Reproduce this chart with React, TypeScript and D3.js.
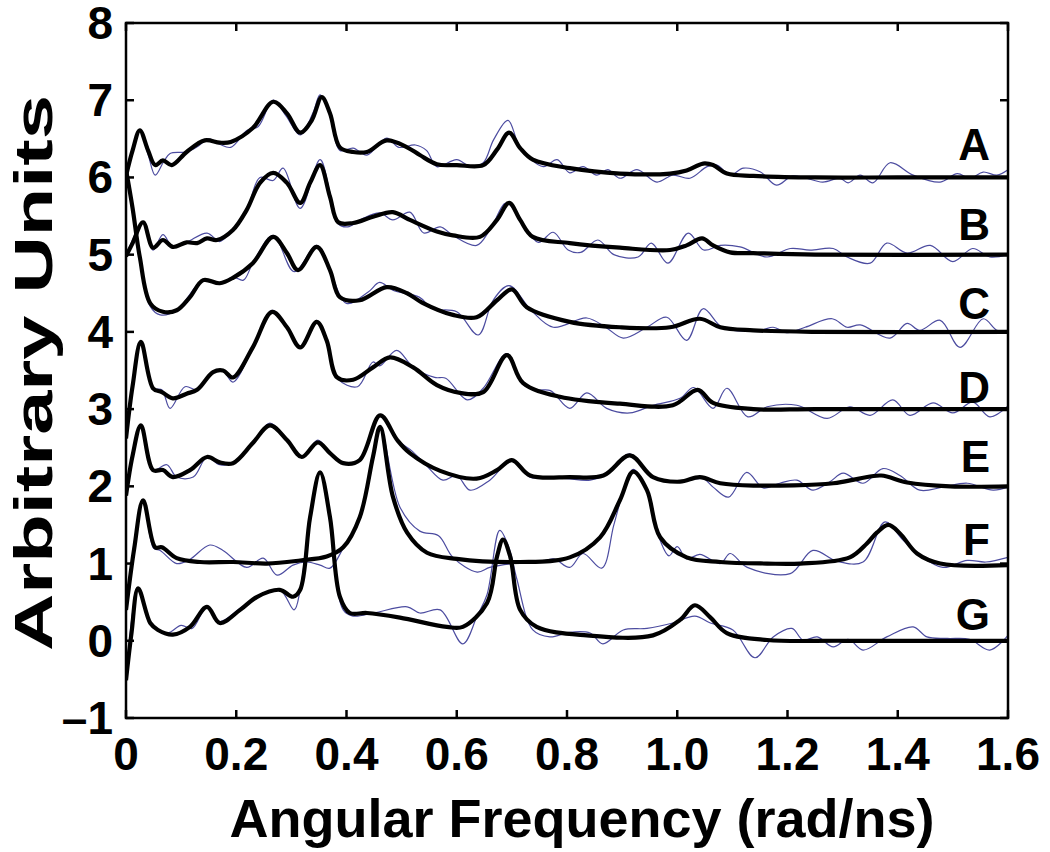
import React from "react";
import * as d3 from "d3";

const W = 1050;
const H = 852;
const margin = { top: 23, right: 42, bottom: 134, left: 126 };
const innerW = W - margin.left - margin.right;
const innerH = H - margin.top - margin.bottom;

type Pt = [number, number];

const aBlack: Pt[] = [[0,6.02],[0.012,6.35],[0.025,6.61],[0.04,6.35],[0.053,6.16],[0.067,6.22],[0.083,6.16],[0.11,6.33],[0.143,6.48],[0.17,6.45],[0.19,6.46],[0.23,6.64],[0.267,6.98],[0.292,6.83],[0.316,6.58],[0.337,6.74],[0.355,7.04],[0.37,6.83],[0.388,6.39],[0.412,6.33],[0.437,6.33],[0.473,6.48],[0.51,6.39],[0.533,6.29],[0.564,6.17],[0.6,6.16],[0.648,6.16],[0.673,6.36],[0.695,6.58],[0.715,6.38],[0.738,6.23],[0.805,6.12],[0.896,6.05],[0.987,6.05],[1.017,6.09],[1.047,6.18],[1.065,6.16],[1.09,6.05],[1.138,6.02],[1.25,6.0],[1.4,6.0],[1.6,6.0]];
const aBlue: Pt[] = [[0,6.02],[0.025,6.6],[0.04,6.3],[0.053,6.03],[0.068,6.2],[0.08,6.31],[0.11,6.33],[0.13,6.4],[0.15,6.5],[0.17,6.43],[0.19,6.39],[0.22,6.61],[0.24,6.66],[0.267,7.0],[0.29,6.8],[0.316,6.55],[0.34,6.85],[0.352,7.07],[0.37,6.8],[0.388,6.35],[0.412,6.38],[0.437,6.29],[0.473,6.51],[0.495,6.39],[0.525,6.42],[0.545,6.35],[0.564,6.14],[0.6,6.23],[0.625,6.14],[0.648,6.19],[0.667,6.49],[0.693,6.74],[0.715,6.39],[0.757,6.14],[0.782,6.23],[0.805,6.06],[0.829,6.14],[0.854,6.03],[0.874,6.1],[0.896,5.99],[0.927,6.1],[0.963,5.94],[0.992,6.03],[1.023,5.99],[1.054,6.14],[1.072,6.16],[1.096,6.03],[1.12,6.12],[1.151,6.07],[1.18,5.9],[1.21,6.02],[1.264,5.94],[1.295,5.99],[1.31,5.93],[1.332,6.03],[1.355,5.93],[1.386,6.19],[1.428,6.03],[1.477,5.94],[1.508,6.05],[1.531,5.99],[1.555,6.07],[1.58,6.03],[1.6,6.1]];

const bBlack: Pt[] = [[0,4.98],[0.012,5.15],[0.031,5.42],[0.049,5.09],[0.067,5.19],[0.085,5.1],[0.11,5.16],[0.129,5.15],[0.147,5.21],[0.165,5.19],[0.194,5.32],[0.219,5.58],[0.243,5.93],[0.267,6.06],[0.292,5.93],[0.316,5.67],[0.334,5.93],[0.352,6.16],[0.37,5.75],[0.385,5.42],[0.412,5.41],[0.448,5.49],[0.484,5.55],[0.515,5.45],[0.564,5.3],[0.593,5.25],[0.642,5.23],[0.673,5.45],[0.695,5.67],[0.715,5.45],[0.738,5.23],[0.805,5.15],[0.896,5.09],[0.987,5.06],[1.017,5.12],[1.045,5.21],[1.065,5.12],[1.096,5.03],[1.138,5.02],[1.25,5.0],[1.6,5.0]];
const bBlue: Pt[] = [[0,4.98],[0.031,5.42],[0.049,5.06],[0.067,5.26],[0.085,5.1],[0.11,5.16],[0.147,5.28],[0.17,5.17],[0.19,5.3],[0.219,5.58],[0.243,6.0],[0.267,5.96],[0.285,6.12],[0.316,5.6],[0.352,6.23],[0.37,5.8],[0.385,5.4],[0.402,5.36],[0.43,5.47],[0.461,5.54],[0.484,5.45],[0.515,5.55],[0.54,5.28],[0.57,5.36],[0.593,5.25],[0.636,5.12],[0.66,5.32],[0.69,5.67],[0.715,5.45],[0.748,5.16],[0.775,5.29],[0.802,5.06],[0.825,5.03],[0.856,5.19],[0.885,5.0],[0.929,4.97],[0.953,5.15],[0.983,4.89],[1.02,5.28],[1.048,5.06],[1.078,5.12],[1.114,5.1],[1.163,4.97],[1.205,5.08],[1.241,5.06],[1.283,5.08],[1.308,4.97],[1.35,4.89],[1.38,5.15],[1.417,5.02],[1.459,5.12],[1.5,4.91],[1.536,5.08],[1.567,4.97],[1.6,5.0]];

const cBlack: Pt[] = [[0,6.1],[0.012,5.6],[0.025,4.97],[0.044,4.37],[0.067,4.26],[0.092,4.28],[0.116,4.45],[0.14,4.67],[0.17,4.63],[0.194,4.7],[0.23,4.89],[0.267,5.23],[0.292,5.02],[0.312,4.8],[0.346,5.1],[0.37,4.8],[0.388,4.45],[0.424,4.41],[0.473,4.58],[0.51,4.5],[0.537,4.38],[0.593,4.22],[0.636,4.19],[0.673,4.41],[0.7,4.55],[0.727,4.32],[0.805,4.13],[0.896,4.06],[0.987,4.06],[1.041,4.17],[1.078,4.06],[1.138,4.02],[1.25,4.0],[1.6,4.0]];
const cBlue: Pt[] = [[0,6.1],[0.025,4.97],[0.044,4.33],[0.062,4.22],[0.092,4.28],[0.14,4.67],[0.17,4.62],[0.194,4.71],[0.213,4.67],[0.23,4.89],[0.267,5.25],[0.305,4.78],[0.346,5.12],[0.37,4.8],[0.4,4.37],[0.44,4.52],[0.46,4.64],[0.484,4.54],[0.532,4.45],[0.556,4.3],[0.6,4.26],[0.639,3.96],[0.666,4.41],[0.695,4.6],[0.735,4.28],[0.775,4.06],[0.836,4.18],[0.872,4.05],[0.902,3.92],[0.945,4.06],[0.981,4.19],[1.017,3.89],[1.047,4.3],[1.083,4.05],[1.15,4.02],[1.174,4.06],[1.2,3.99],[1.232,4.06],[1.281,4.17],[1.308,4.06],[1.332,4.09],[1.386,3.92],[1.417,4.11],[1.44,4.02],[1.477,4.15],[1.513,3.8],[1.555,4.17],[1.58,4.02],[1.6,4.0]];

const dBlack: Pt[] = [[0,2.62],[0.012,3.3],[0.027,3.87],[0.049,3.27],[0.065,3.22],[0.085,3.14],[0.11,3.2],[0.129,3.25],[0.158,3.48],[0.176,3.5],[0.194,3.41],[0.23,3.8],[0.265,4.26],[0.292,4.06],[0.316,3.8],[0.346,4.13],[0.364,3.89],[0.383,3.41],[0.412,3.38],[0.448,3.54],[0.479,3.67],[0.521,3.54],[0.564,3.31],[0.606,3.21],[0.648,3.22],[0.691,3.7],[0.72,3.34],[0.787,3.16],[0.896,3.07],[0.992,3.05],[1.037,3.25],[1.065,3.08],[1.138,3.0],[1.25,3.0],[1.6,3.0]];
const dBlue: Pt[] = [[0,2.62],[0.027,3.87],[0.049,3.27],[0.065,3.25],[0.08,3.01],[0.107,3.29],[0.13,3.25],[0.158,3.48],[0.176,3.5],[0.194,3.35],[0.23,3.8],[0.265,4.28],[0.292,4.06],[0.316,3.8],[0.346,4.15],[0.364,3.89],[0.383,3.4],[0.42,3.29],[0.448,3.61],[0.46,3.56],[0.491,3.76],[0.52,3.55],[0.56,3.41],[0.58,3.4],[0.619,3.12],[0.648,3.27],[0.691,3.72],[0.72,3.32],[0.746,3.25],[0.77,3.24],[0.805,3.01],[0.836,3.21],[0.872,3.01],[0.914,2.95],[0.956,3.05],[1.005,3.14],[1.03,3.28],[1.065,3.01],[1.09,3.27],[1.128,2.9],[1.163,3.03],[1.217,3.05],[1.272,2.88],[1.313,3.03],[1.35,2.92],[1.391,3.12],[1.422,2.92],[1.464,3.08],[1.5,2.95],[1.536,3.09],[1.567,2.9],[1.6,3.04]];

const eBlack: Pt[] = [[0,1.88],[0.012,2.4],[0.027,2.79],[0.049,2.21],[0.067,2.21],[0.085,2.12],[0.116,2.21],[0.147,2.38],[0.17,2.31],[0.194,2.3],[0.23,2.56],[0.261,2.79],[0.292,2.6],[0.319,2.38],[0.348,2.57],[0.37,2.43],[0.394,2.3],[0.424,2.34],[0.461,2.92],[0.492,2.6],[0.515,2.43],[0.57,2.2],[0.636,2.1],[0.673,2.21],[0.7,2.34],[0.733,2.14],[0.805,2.12],[0.866,2.14],[0.914,2.4],[0.956,2.12],[1.005,2.06],[1.041,2.12],[1.078,2.04],[1.138,2.01],[1.283,2.04],[1.33,2.1],[1.37,2.14],[1.417,2.05],[1.495,2.0],[1.6,2.0]];
const eBlue: Pt[] = [[0,1.88],[0.027,2.79],[0.049,2.21],[0.074,2.28],[0.092,2.12],[0.122,2.12],[0.147,2.38],[0.17,2.28],[0.194,2.3],[0.23,2.56],[0.261,2.82],[0.292,2.6],[0.319,2.38],[0.348,2.6],[0.37,2.43],[0.394,2.3],[0.424,2.34],[0.461,2.92],[0.492,2.6],[0.52,2.45],[0.545,2.27],[0.575,2.08],[0.6,2.14],[0.624,1.95],[0.66,2.08],[0.7,2.34],[0.733,2.12],[0.764,2.12],[0.8,2.1],[0.842,2.08],[0.87,2.15],[0.914,2.42],[0.945,2.17],[0.974,2.08],[1.005,2.06],[1.047,2.1],[1.065,1.99],[1.093,1.86],[1.126,2.18],[1.156,1.98],[1.186,2.04],[1.217,2.08],[1.246,1.95],[1.277,2.06],[1.301,2.17],[1.337,2.04],[1.373,2.23],[1.404,2.14],[1.44,1.95],[1.482,1.99],[1.526,2.04],[1.573,1.95],[1.6,1.99]];

const fBlack: Pt[] = [[0,0.4],[0.015,1.2],[0.031,1.82],[0.053,1.21],[0.065,1.21],[0.092,1.07],[0.134,1.02],[0.194,1.02],[0.256,1.0],[0.316,1.04],[0.364,1.09],[0.394,1.21],[0.424,1.6],[0.448,2.38],[0.461,2.77],[0.484,1.87],[0.51,1.4],[0.546,1.14],[0.6,1.06],[0.715,1.02],[0.805,1.08],[0.86,1.34],[0.896,1.82],[0.92,2.19],[0.945,1.95],[0.969,1.34],[1.017,1.08],[1.078,1.02],[1.163,1.0],[1.223,1.0],[1.313,1.08],[1.344,1.26],[1.362,1.4],[1.383,1.5],[1.404,1.39],[1.435,1.13],[1.477,1.0],[1.6,0.98]];
const fBlue: Pt[] = [[0,0.4],[0.031,1.82],[0.05,1.2],[0.062,1.17],[0.092,1.0],[0.115,1.05],[0.152,1.24],[0.176,1.17],[0.219,0.95],[0.249,1.07],[0.274,0.85],[0.303,0.98],[0.328,1.02],[0.352,0.98],[0.37,0.94],[0.394,1.2],[0.424,1.6],[0.448,2.38],[0.461,2.77],[0.497,1.73],[0.533,1.42],[0.567,1.36],[0.593,1.08],[0.637,0.89],[0.66,0.95],[0.7,1.0],[0.75,1.02],[0.776,1.06],[0.805,0.95],[0.829,1.13],[0.863,0.94],[0.885,1.5],[0.905,2.0],[0.92,2.22],[0.945,1.95],[0.969,1.3],[0.985,1.1],[1.0,1.22],[1.017,1.06],[1.041,1.12],[1.078,1.0],[1.096,1.13],[1.127,0.95],[1.205,0.87],[1.246,1.17],[1.29,1.03],[1.337,1.02],[1.377,1.54],[1.41,1.3],[1.44,1.11],[1.482,0.95],[1.526,1.04],[1.56,1.02],[1.6,1.08]];

const gBlack: Pt[] = [[0,-0.51],[0.01,0.1],[0.022,0.68],[0.044,0.23],[0.058,0.14],[0.085,0.08],[0.116,0.18],[0.147,0.44],[0.17,0.23],[0.207,0.4],[0.238,0.57],[0.279,0.66],[0.303,0.57],[0.316,0.66],[0.334,1.6],[0.352,2.18],[0.37,1.6],[0.388,0.57],[0.406,0.36],[0.437,0.36],[0.497,0.3],[0.582,0.18],[0.611,0.18],[0.655,0.49],[0.673,1.09],[0.684,1.31],[0.697,1.09],[0.715,0.4],[0.745,0.18],[0.836,0.07],[0.956,0.07],[1.005,0.27],[1.032,0.46],[1.059,0.31],[1.09,0.1],[1.163,0.01],[1.3,0.0],[1.6,0.0]];
const gBlue: Pt[] = [[0,-0.51],[0.022,0.68],[0.044,0.23],[0.075,0.1],[0.1,0.2],[0.12,0.16],[0.147,0.44],[0.17,0.25],[0.207,0.42],[0.238,0.57],[0.279,0.66],[0.305,0.4],[0.316,0.66],[0.334,1.6],[0.352,2.18],[0.37,1.6],[0.394,0.4],[0.412,0.32],[0.45,0.36],[0.51,0.44],[0.533,0.36],[0.57,0.4],[0.611,-0.04],[0.637,0.32],[0.655,0.6],[0.678,1.43],[0.695,1.2],[0.709,0.8],[0.738,0.14],[0.769,0.05],[0.805,0.11],[0.842,0.1],[0.865,-0.04],[0.902,0.14],[0.945,0.16],[0.992,0.23],[1.032,0.32],[1.06,0.23],[1.101,0.14],[1.141,-0.22],[1.174,0.05],[1.208,0.16],[1.228,0.01],[1.254,0.05],[1.283,-0.08],[1.31,0.02],[1.337,-0.12],[1.38,0.05],[1.428,0.18],[1.453,0.05],[1.49,0.03],[1.53,0.02],[1.567,-0.12],[1.6,0.07]];

const seriesNames = ["A", "B", "C", "D", "E", "F", "G"];
const blackCurves = [aBlack, bBlack, cBlack, dBlack, eBlack, fBlack, gBlack];
const blueCurves = [aBlue, bBlue, cBlue, dBlue, eBlue, fBlue, gBlue];
const labelLevels = [6.43, 5.4, 4.37, 3.28, 2.39, 1.32, 0.35];

const xTicks = [0, 0.2, 0.4, 0.6, 0.8, 1.0, 1.2, 1.4, 1.6];
const xTickLabels = ["0", "0.2", "0.4", "0.6", "0.8", "1.0", "1.2", "1.4", "1.6"];
const yTicks = [-1, 0, 1, 2, 3, 4, 5, 6, 7, 8];
const yTickLabels = ["\u20131", "0", "1", "2", "3", "4", "5", "6", "7", "8"];

const font = "'Liberation Sans', Arial, Helvetica, sans-serif";

export default function App() {
  const x = d3.scaleLinear().domain([0, 1.6]).range([0, innerW]);
  const y = d3.scaleLinear().domain([-1, 8]).range([innerH, 0]);

  const line = d3
    .line<Pt>()
    .x((d) => x(d[0]))
    .y((d) => y(d[1]))
    .curve(d3.curveCatmullRom.alpha(0.5));

  const tick = 8;

  return (
    <svg
      width={W}
      height={H}
      style={{ position: "absolute", left: 0, top: 0, background: "#fff" }}
      fontFamily={font}
      fontWeight="bold"
    >
      <defs>
        <clipPath id="plot">
          <rect x={0} y={0} width={innerW} height={innerH} />
        </clipPath>
      </defs>
      <g transform={`translate(${margin.left},${margin.top})`}>
        <g clipPath="url(#plot)" fill="none">
          {blueCurves.map((c, i) => (
            <path key={"b" + i} d={line(c) || ""} stroke="#4c4ca0" strokeWidth={1.2} />
          ))}
          {blackCurves.map((c, i) => (
            <path
              key={"k" + i}
              d={line(c) || ""}
              stroke="#000"
              strokeWidth={4.2}
              strokeLinejoin="round"
            />
          ))}
        </g>

        {/* frame + inward ticks */}
        <rect x={0} y={0} width={innerW} height={innerH} fill="none" stroke="#000" strokeWidth={2.5} />
        {xTicks.map((t) => (
          <g key={"xt" + t}>
            <line x1={x(t)} x2={x(t)} y1={innerH} y2={innerH - tick} stroke="#000" strokeWidth={2.5} />
            <line x1={x(t)} x2={x(t)} y1={0} y2={tick} stroke="#000" strokeWidth={2.5} />
          </g>
        ))}
        {yTicks.map((t) => (
          <g key={"yt" + t}>
            <line x1={0} x2={tick} y1={y(t)} y2={y(t)} stroke="#000" strokeWidth={2.5} />
            <line x1={innerW} x2={innerW - tick} y1={y(t)} y2={y(t)} stroke="#000" strokeWidth={2.5} />
          </g>
        ))}

        {xTicks.map((t, i) => (
          <text key={"xl" + t} x={x(t)} y={innerH + 52} textAnchor="middle" fontSize={46}>
            {xTickLabels[i]}
          </text>
        ))}
        {yTicks.map((t, i) => (
          <text key={"yl" + t} x={-13} y={y(t) + 16} textAnchor="end" fontSize={46}>
            {yTickLabels[i]}
          </text>
        ))}

        {seriesNames.map((n, i) => (
          <text
            key={n}
            x={innerW - 18}
            y={y(labelLevels[i])}
            dy="0.36em"
            textAnchor="end"
            fontSize={44}
          >
            {n}
          </text>
        ))}
      </g>

      <text x={582} y={837} textAnchor="middle" fontSize={54}>
        Angular Frequency (rad/ns)
      </text>
      <text
        transform={`translate(52,373) rotate(-90)`}
        textAnchor="middle"
        fontSize={54}
        textLength={556}
        lengthAdjust="spacingAndGlyphs"
      >
        Arbitrary Units
      </text>
    </svg>
  );
}
